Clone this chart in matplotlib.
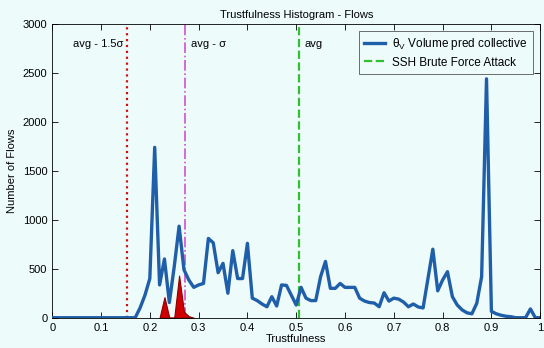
import numpy as np
import matplotlib.pyplot as plt

plt.rcParams['font.family'] = ['Liberation Sans', 'DejaVu Sans']
plt.rcParams['mathtext.default'] = 'regular'

# trustfulness bins and flow counts
trust = np.round(np.arange(0, 101) * 0.01, 2)
flows = [0] * 18 + [
    100, 230, 400, 1740, 335, 600, 155, 520, 935, 490,      # 0.18 - 0.27
    385, 310, 335, 350, 810, 765, 460, 555, 250, 685,       # 0.28 - 0.37
    400, 400, 760, 200, 175, 140, 112, 215, 120, 335,       # 0.38 - 0.47
    330, 230, 130, 310, 200, 175, 175, 420, 575, 300,       # 0.48 - 0.57
    300, 350, 310, 310, 310, 200, 170, 155, 150, 112,       # 0.58 - 0.67
    255, 170, 200, 190, 160, 112, 140, 110, 100, 400,       # 0.68 - 0.77
    700, 275, 385, 470, 215, 130, 80, 50, 40, 147,          # 0.78 - 0.87
    420, 2440, 65, 40, 25, 15, 10, 0, 0, 0,                 # 0.88 - 0.97
    90, 0, 0,                                               # 0.98 - 1.00
]

# SSH brute force attack flows
attack_t = [0.22, 0.23, 0.24, 0.25, 0.26, 0.27, 0.28, 0.29]
attack_n = [0, 210, 0, 0, 430, 60, 15, 0]

# threshold lines
thr_pos = [0.154, 0.272, 0.505]
thr_txt = ['avg - 1.5σ', 'avg - σ', 'avg']

bg = '#eefbfb'
fig = plt.figure(figsize=(5.44, 3.48), dpi=100, facecolor=bg)
ax = fig.add_axes([0.096, 0.087, 0.897, 0.844], facecolor=bg)

ax.fill_between(attack_t, attack_n, color='#d00000', edgecolor='#8a0000', lw=0.8, zorder=2)
ax.plot(trust, flows, color='#1f5ea8', lw=2.4, label=r'θ$_V$ Volume pred collective', zorder=3)

ax.axvline(thr_pos[0], color='#d01010', ls=':', lw=1.6, zorder=1)
ax.axvline(thr_pos[1], color='#d050d0', ls='-.', lw=1.2, zorder=1)
ax.axvline(thr_pos[2], color='#30c030', ls='--', lw=1.6, zorder=1, label='SSH Brute Force Attack')

ax.text(thr_pos[0] - 0.008, 2800, thr_txt[0], ha='right', va='center', fontsize=8)
ax.text(thr_pos[1] + 0.012, 2800, thr_txt[1], ha='left', va='center', fontsize=8)
ax.text(thr_pos[2] + 0.012, 2800, thr_txt[2], ha='left', va='center', fontsize=8)

ax.set_xlim(0, 1)
ax.set_ylim(0, 3000)
ax.set_xticks(np.arange(0, 1.01, 0.1))
ax.set_xticklabels(['0', '0.1', '0.2', '0.3', '0.4', '0.5', '0.6', '0.7', '0.8', '0.9', '1'])
ax.set_yticks(np.arange(0, 3001, 500))
ax.tick_params(direction='in', top=True, right=True, labelsize=8, length=4, width=0.6)
for s in ax.spines.values():
    s.set_linewidth(0.6)

ax.set_title('Trustfulness Histogram - Flows', fontsize=8, pad=4)
ax.set_xlabel('Trustfulness', fontsize=8, labelpad=1)
ax.set_ylabel('Number of Flows', fontsize=8)

leg = ax.legend(loc='upper right', fontsize=8.5, fancybox=False, framealpha=1,
                edgecolor='#555555', borderpad=0.45, handlelength=1.8,
                handletextpad=0.6, labelspacing=0.35, borderaxespad=0.6)
leg.get_frame().set_facecolor(bg)
leg.get_frame().set_linewidth(0.6)

fig.savefig('out.png', dpi=100, facecolor=bg)
